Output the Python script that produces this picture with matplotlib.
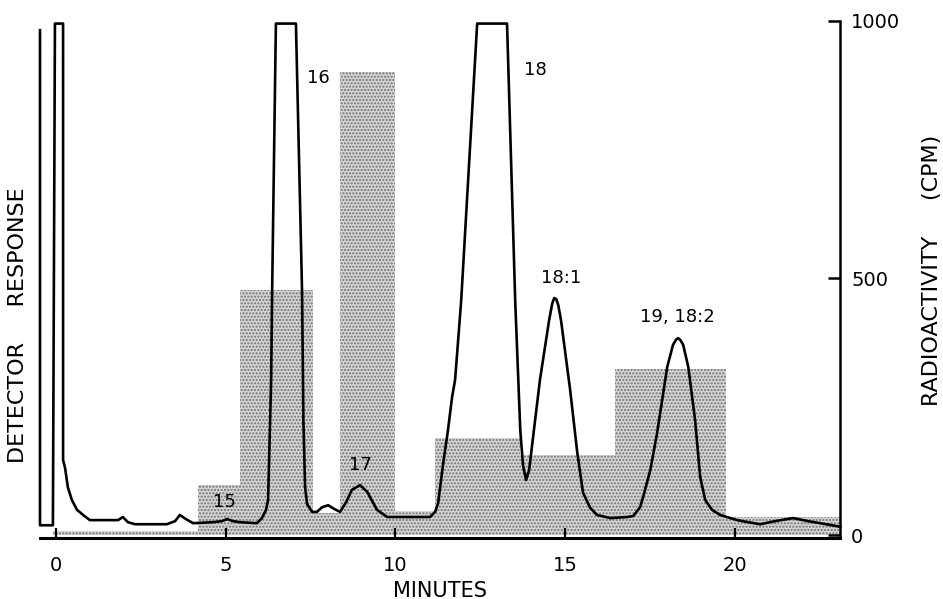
import matplotlib
matplotlib.use("Agg")
import matplotlib.pyplot as plt
import numpy as np

plt.rcParams['font.family'] = ['DejaVu Sans']

# Radioactivity histogram (CPM), fraction edges in minutes
bin_edges = [-0.09, 4.19, 5.42, 7.57, 8.37, 10.0, 11.17, 13.68, 16.48, 19.75, 23.1]
cpm = [8, 97, 477, 43, 901, 47, 189, 156, 323, 36]

# Detector response trace (minutes, response on same 0-1000 scale)
trace_t = [-0.47, -0.47, -0.09, -0.03, 0.21, 0.21, 0.27, 0.35, 0.47, 0.62, 0.80, 1.00,
           1.59, 1.83, 1.97, 2.12, 2.33, 3.27, 3.51, 3.65, 3.83, 4.04, 4.63, 4.89,
           5.04, 5.22, 5.42, 5.92, 6.07, 6.19, 6.25, 6.34, 6.37, 6.48, 7.07, 7.25,
           7.29, 7.34, 7.40, 7.55, 7.69, 7.84, 8.02, 8.19, 8.37, 8.55, 8.72, 8.96,
           9.17, 9.46, 9.76, 11.02, 11.17, 11.26, 11.41, 11.55, 11.67, 11.76, 11.94,
           12.41, 13.29, 13.53, 13.68, 13.76, 13.85, 13.94, 14.26, 14.53, 14.62, 14.68,
           14.74, 14.80, 14.88, 15.15, 15.36, 15.53, 15.74, 15.94, 16.33, 16.83, 17.01,
           17.21, 17.30, 17.51, 17.71, 18.01, 18.18, 18.27, 18.33, 18.39, 18.48, 18.63, 18.83,
           18.98, 19.13, 19.33, 19.57, 20.07, 20.39, 20.75, 21.19, 21.72, 22.16,
           22.52, 23.11]
trace_r = [982, 19, 19, 995, 995, 146, 130, 93, 68, 49, 39, 29,
           29, 29, 35, 25, 21, 21, 27, 39, 31, 23, 25, 27,
           31, 27, 25, 23, 33, 49, 68, 302, 477, 995, 995, 477,
           224, 93, 60, 45, 45, 54, 58, 51, 45, 64, 88, 97,
           84, 49, 35, 35, 45, 62, 140, 204, 268, 302, 457,
           995, 995, 457, 204, 136, 107, 126, 302, 418, 450, 461,
           459, 447, 418, 282, 160, 82, 53, 39, 33, 35, 37,
           54, 74, 126, 198, 327, 370, 380, 383, 380, 370, 327, 224,
           113, 68, 49, 39, 29, 25, 21, 27, 33, 27,
           23, 16]

x_ticks = [0, 5, 10, 15, 20]
y_ticks = [0, 500, 1000]

peak_labels = ["15", "16", "17", "18", "18:1", "19, 18:2"]
peak_label_t = [4.96, 7.72, 8.96, 14.12, 14.89, 18.3]
peak_label_r = [65, 890, 136, 905, 500, 425]

fig = plt.figure(figsize=(9.43, 5.99), dpi=100)
ax = fig.add_axes([40/943, 61/599, 800/943, 517/599])

# stippled histogram
widths = np.diff(bin_edges)
ax.bar(bin_edges[:-1], cpm, width=widths, align='edge', facecolor='#d4d4d4',
       edgecolor='#707070', hatch='.....', linewidth=0, zorder=1)

ax.plot(trace_t, trace_r, color='black', lw=1.9, solid_joinstyle='round',
        clip_on=False, zorder=3)

ax.set_xlim(-0.47, 23.1)
ax.set_ylim(-5.8, 1000)

for s in ['top', 'left']:
    ax.spines[s].set_visible(False)
ax.spines['bottom'].set_linewidth(2.2)
ax.spines['right'].set_linewidth(1.8)
ax.spines['bottom'].set_zorder(4)

ax.set_xticks(x_ticks)
ax.set_xticklabels([str(v) for v in x_ticks])
ax.tick_params(axis='x', direction='in', length=7, width=1.6, pad=13,
               labelsize=14, colors='black')
ax.yaxis.tick_right()
ax.set_yticks(y_ticks)
ax.set_yticklabels([str(v) for v in y_ticks])
ax.tick_params(axis='y', direction='in', length=9, width=1.8, pad=8,
               labelsize=14, right=True, left=False)

ax.set_xlabel("MINUTES", fontsize=15, labelpad=4)

for lab, t, r in zip(peak_labels, peak_label_t, peak_label_r):
    ax.text(t, r, lab, fontsize=13, ha='center', va='center', zorder=5)

fig.text(18/943, 1 - 325/599, "DETECTOR     RESPONSE", rotation=90,
         fontsize=16, ha='center', va='center')
fig.text(932/943, 1 - 270/599, "RADIOACTIVITY     (CPM)", rotation=90,
         fontsize=16, ha='center', va='center')

fig.savefig("out.png", dpi=100)
